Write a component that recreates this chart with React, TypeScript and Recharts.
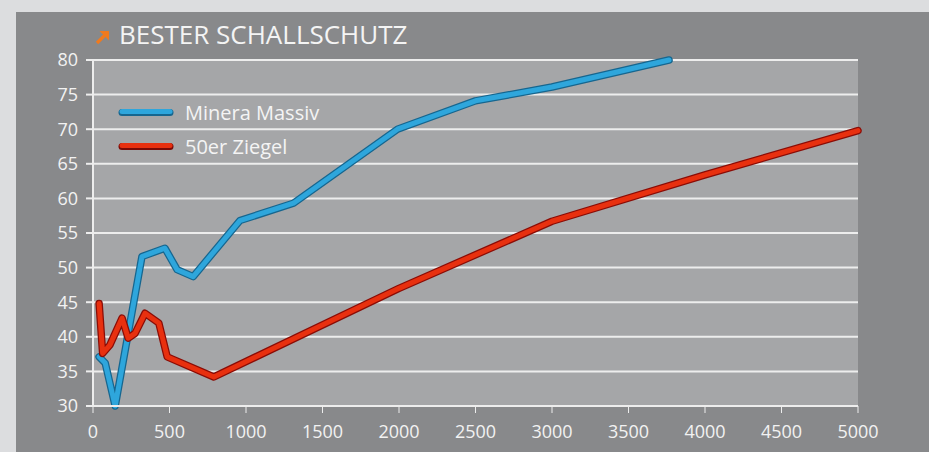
import { LineChart, Line, XAxis, YAxis, CartesianGrid } from "recharts";

// Minera Massiv, Hz vs dB
const mineraFreq = [40, 80, 145, 320, 470, 550, 655, 960, 1310, 1990, 2500, 3000, 3765];
const mineraDb = [37.1, 36.2, 30, 51.6, 52.8, 49.7, 48.7, 56.8, 59.3, 70, 74.1, 76.1, 80];

// 50er Ziegel
const ziegelFreq = [40, 63, 110, 190, 230, 275, 340, 430, 485, 790, 2000, 3000, 4000, 5000];
const ziegelDb = [44.8, 37.6, 38.8, 42.7, 39.8, 40.5, 43.4, 42.0, 37.1, 34.2, 47.0, 56.7, 63.4, 69.8];

const xTicks = [0, 500, 1000, 1500, 2000, 2500, 3000, 3500, 4000, 4500, 5000];
const yTicks = [30, 35, 40, 45, 50, 55, 60, 65, 70, 75, 80];

const seriesNames = ["Minera Massiv", "50er Ziegel"];

const minera = mineraFreq.map((f, i) => ({ f, db: mineraDb[i] }));
const ziegel = ziegelFreq.map((f, i) => ({ f, db: ziegelDb[i] }));

const FONT = "'Open Sans', sans-serif";
const tickStyle = { fontSize: 18, fill: "#f2f2f2", fontFamily: FONT };

const legendItems = [
  { name: seriesNames[0], dark: "#16668f", light: "#2ea6dc" },
  { name: seriesNames[1], dark: "#7a0a06", light: "#e8300f" },
];

function LegendBox() {
  return (
    <div style={{ position: "absolute", left: 102, top: 83 }}>
      {legendItems.map((it) => (
        <div
          key={it.name}
          style={{ display: "flex", alignItems: "center", height: 34 }}
        >
          <svg width={56} height={10}>
            <line x1={4} y1={5.5} x2={52} y2={5.5} stroke={it.dark} strokeWidth={7} strokeLinecap="round" />
            <line x1={4} y1={4.5} x2={52} y2={4.5} stroke={it.light} strokeWidth={5} strokeLinecap="round" />
          </svg>
          <span
            style={{
              marginLeft: 11,
              color: "#f4f4f4",
              fontFamily: FONT,
              fontSize: 20,
            }}
          >
            {it.name}
          </span>
        </div>
      ))}
    </div>
  );
}

export default function App() {
  const lineProps = {
    dataKey: "db",
    type: "linear" as const,
    dot: false,
    activeDot: false,
    strokeLinecap: "round" as const,
    strokeLinejoin: "round" as const,
    isAnimationActive: false,
    legendType: "none" as const,
  };
  return (
    <div
      style={{
        position: "absolute",
        left: 0,
        top: 0,
        width: 929,
        height: 452,
        background: "#dcdddf",
        overflow: "hidden",
      }}
    >
      <div
        style={{
          position: "absolute",
          left: 16,
          top: 12,
          width: 913,
          height: 440,
          background: "#88898b",
        }}
      >
        <svg
          width={18}
          height={18}
          style={{ position: "absolute", left: 78, top: 16 }}
        >
          <path d="M3 15 L13 5" stroke="#f07a1e" strokeWidth={3.2} fill="none" />
          <path d="M5.5 3 H15 V12.5 Z" fill="#f07a1e" />
        </svg>
        <div
          style={{
            position: "absolute",
            left: 103,
            top: 4,
            color: "#f4f4f4",
            fontFamily: FONT,
            fontSize: 26,
            whiteSpace: "nowrap",
          }}
        >
          BESTER SCHALLSCHUTZ
        </div>
        <LineChart
          width={913}
          height={440}
          margin={{ top: 48, right: 71, bottom: 6, left: 0 }}
          style={{ position: "absolute", left: 0, top: 0 }}
        >
          <CartesianGrid
            vertical={false}
            stroke="#ededed"
            strokeWidth={2}
            fill="#a5a6a8"
          />
          <XAxis
            type="number"
            dataKey="f"
            domain={[0, 5000]}
            ticks={xTicks}
            interval={0}
            tick={tickStyle}
            tickSize={7}
            tickMargin={12}
            height={40}
            stroke="#ededed"
            axisLine={{ stroke: "#ededed", strokeWidth: 2 }}
            allowDuplicatedCategory={false}
          />
          <YAxis
            type="number"
            domain={[30, 80]}
            ticks={yTicks}
            interval={0}
            width={77}
            tick={tickStyle}
            tickSize={7}
            tickMargin={8}
            stroke="#ededed"
            axisLine={{ stroke: "#ededed", strokeWidth: 2 }}
            tickLine={{ stroke: "#ededed", strokeWidth: 2 }}
          />
          <Line {...lineProps} data={minera} name={seriesNames[0]} stroke="#16668f" strokeWidth={7.5} />
          <Line {...lineProps} data={minera} name={seriesNames[0] + " hl"} stroke="#2ea6dc" strokeWidth={5} />
          <Line {...lineProps} data={ziegel} name={seriesNames[1]} stroke="#8a0c06" strokeWidth={7.5} />
          <Line {...lineProps} data={ziegel} name={seriesNames[1] + " hl"} stroke="#e8300f" strokeWidth={5} />
        </LineChart>
        <LegendBox />
      </div>
    </div>
  );
}
